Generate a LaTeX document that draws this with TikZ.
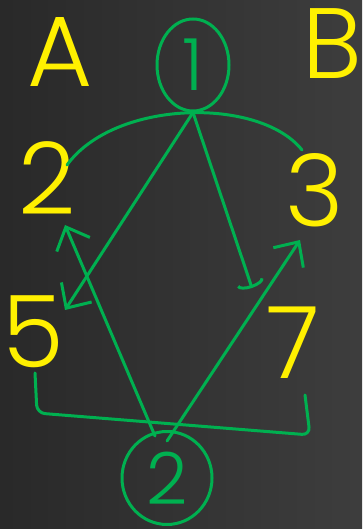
\documentclass[tikz,border=0pt]{standalone}
\usepackage{fontspec}
\usetikzlibrary{arrows.meta,shapes.geometric}
\newfontfamily\handfont{Poppins}[UprightFont=* Light]
\definecolor{chalkgreen}{RGB}{0,176,80}
\definecolor{chalkyellow}{RGB}{255,240,0}
\tikzset{
  wire/.style={draw=chalkgreen,line width=3pt,line cap=round,line join=round},
  barb/.style={-{Straight Barb[length=19pt,width=36pt]}},
  stub/.style={-{Arc Barb[length=6pt,width=28pt]}},
  hand/.style={text=chalkyellow,inner sep=0pt,font=\handfont\fontsize{100}{100}\selectfont},
  ring/.style={ellipse,wire,text=chalkgreen,inner sep=0pt,font=\handfont\fontsize{72}{72}\selectfont}
}

\begin{document}
\begin{tikzpicture}[x=1pt,y=1pt]
        \shade[left color=black!84,right color=black!76] (0,0) rectangle (362,529);
        \useasboundingbox (0,0) rectangle (362,529);
        \draw
            (60,477) node[hand] (A){A}
            (332,485) node[hand] (B){B}
            (47,351) node[hand] (2){2}
            (315,339) node[hand] (3){3}
            (33,197) node[hand] (5){5}
            (293,186) node[hand] (7){7}
            (193,464) node[ring,minimum width=72pt,minimum height=92pt] (c1){1}
            (167,51) node[ring,minimum width=90pt,minimum height=93pt] (c2){2};
        \coordinate (t7) at (252,241);
        \draw[wire] ([shift={(20,13)}]2.center) .. controls (115,430) and (260,432) .. ([shift={(-13,40)}]3.center);
        \draw[wire,rounded corners=8pt] ([shift={(2,-41)}]5.center) -- ++(2,-40)
            -- ([shift={(17,-92)}]7.center) -- ([shift={(12,-52)}]7.center);
        \begin{scope}[wire]
            \draw[barb] (c1.south) to ([shift={(32,22)}]5.center);
            \draw[stub] (c1.south) to (t7);
            \draw[barb] ([shift={(-12,42)}]c2.center) to ([shift={(18,-47)}]2.center);
            \draw[barb] ([shift={(0,37)}]c2.center) to ([shift={(-15,-50)}]3.center);
        \end{scope}
\end{tikzpicture}
\end{document}
